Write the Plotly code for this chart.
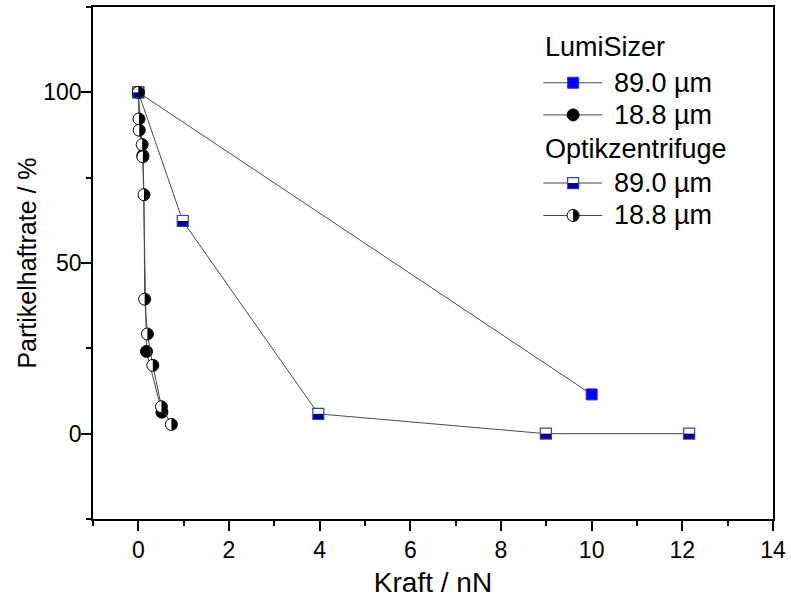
import plotly.graph_objects as go

# Kraft / nN  vs.  Partikelhaftrate / %
lumi_89_x = [0.0, 10.0]
lumi_89_y = [100.0, 11.5]

lumi_188_x = [0.0, 0.1, 0.18, 0.52]
lumi_188_y = [100.0, 81.5, 24.1, 6.3]

optik_89_x = [0.0, 0.98, 3.97, 8.99, 12.15]
optik_89_y = [100.0, 62.3, 5.8, 0.0, 0.0]

optik_188_x = [0.0, 0.015, 0.02, 0.085, 0.1, 0.125, 0.14, 0.2, 0.32, 0.51, 0.73]
optik_188_y = [100.0, 92.2, 88.9, 84.7, 81.1, 70.0, 39.4, 29.2, 20.0, 7.9, 2.7]

group_titles = ["LumiSizer", "Optikzentrifuge"]
series_labels = ["89.0 µm", "18.8 µm", "89.0 µm", "18.8 µm"]

x_ticks = [0, 2, 4, 6, 8, 10, 12, 14]
y_ticks = [0, 50, 100]

FONT = "Liberation Sans, Arial, sans-serif"
LINE = "#4a4a4a"
BLUE = "#0000ff"
BLUE_EDGE = "#2f2fe0"
NAVY = "#000099"
NAVY_EDGE = "#3a3ac8"

SQ = 11     # square marker size (px)
CIRC = 12   # circle marker size (px)


def half_circle_path(r):
    """Right half of a circle of radius r, in pixels around the anchor."""
    k = 0.5523 * r
    return (f"M0,{r} C{k:.3f},{r} {r},{k:.3f} {r},0 "
            f"C{r},{-k:.3f} {k:.3f},{-r} 0,{-r} Z")


def half_circle_shape(x, y, xref, yref):
    r = CIRC / 2 - 0.2
    return dict(type="path", xref=xref, yref=yref,
                xsizemode="pixel", ysizemode="pixel",
                xanchor=x, yanchor=y, path=half_circle_path(r),
                fillcolor="black", line=dict(width=0), layer="above")


def half_square_shape(x, y, xref, yref):
    h = SQ / 2 - 0.3
    return dict(type="rect", xref=xref, yref=yref,
                xsizemode="pixel", ysizemode="pixel",
                xanchor=x, yanchor=y, x0=-h, x1=h, y0=-h, y1=0,
                fillcolor=NAVY, line=dict(width=0), layer="above")


fig = go.Figure()

line_style = dict(color=LINE, width=1)

fig.add_trace(go.Scatter(
    x=lumi_89_x, y=lumi_89_y, mode="lines+markers", line=line_style,
    marker=dict(symbol="square", size=SQ, color=BLUE,
                line=dict(color=BLUE_EDGE, width=1)),
    name="LumiSizer 89.0 µm", showlegend=False))

fig.add_trace(go.Scatter(
    x=lumi_188_x, y=lumi_188_y, mode="lines+markers", line=line_style,
    marker=dict(symbol="circle", size=CIRC, color="black",
                line=dict(color="black", width=1)),
    name="LumiSizer 18.8 µm", showlegend=False))

fig.add_trace(go.Scatter(
    x=optik_89_x, y=optik_89_y, mode="lines+markers", line=line_style,
    marker=dict(symbol="square", size=SQ, color="white",
                line=dict(color=NAVY_EDGE, width=1.2)),
    name="Optikzentrifuge 89.0 µm", showlegend=False))

fig.add_trace(go.Scatter(
    x=optik_188_x, y=optik_188_y, mode="lines+markers", line=line_style,
    marker=dict(symbol="circle", size=CIRC, color="white",
                line=dict(color="black", width=1)),
    name="Optikzentrifuge 18.8 µm", showlegend=False))

shapes = []
shapes += [half_square_shape(x, y, "x", "y") for x, y in zip(optik_89_x, optik_89_y)]
shapes += [half_circle_shape(x, y, "x", "y") for x, y in zip(optik_188_x, optik_188_y)]

# ---- legend, drawn on an overlay axis spanning the plot area (0..1) ----
leg_line = [0.6623, 0.7489]
leg_mark = 0.7061
leg_text_x = 0.7635
leg_head_x = 0.6623
head_rows = [0.9212, 0.7228]
entry_rows = [0.8521, 0.7893, 0.6562, 0.5928]

entry_markers = [
    dict(symbol="square", size=SQ, color=BLUE, line=dict(color=BLUE_EDGE, width=1)),
    dict(symbol="circle", size=CIRC, color="black", line=dict(color="black", width=1)),
    dict(symbol="square", size=SQ, color="white", line=dict(color=NAVY_EDGE, width=1.2)),
    dict(symbol="circle", size=CIRC, color="white", line=dict(color="black", width=1)),
]

for row, mk in zip(entry_rows, entry_markers):
    fig.add_trace(go.Scatter(
        x=leg_line, y=[row, row], mode="lines", line=line_style,
        xaxis="x2", yaxis="y2", showlegend=False, hoverinfo="skip"))
    fig.add_trace(go.Scatter(
        x=[leg_mark], y=[row], mode="markers", marker=mk,
        xaxis="x2", yaxis="y2", showlegend=False, hoverinfo="skip"))

shapes.append(half_square_shape(leg_mark, entry_rows[2], "x2", "y2"))
shapes.append(half_circle_shape(leg_mark, entry_rows[3], "x2", "y2"))

annotations = []
for title, row in zip(group_titles, head_rows):
    annotations.append(dict(x=leg_head_x, y=row, xref="x2", yref="y2", text=title,
                            showarrow=False, xanchor="left", yanchor="middle",
                            font=dict(family=FONT, size=27, color="black")))
for label, row in zip(series_labels, entry_rows):
    annotations.append(dict(x=leg_text_x, y=row, xref="x2", yref="y2", text=label,
                            showarrow=False, xanchor="left", yanchor="middle",
                            font=dict(family=FONT, size=27, color="black")))

axis_common = dict(
    showline=True, linecolor="black", linewidth=1.5, mirror=True,
    ticks="outside", ticklen=10, tickwidth=1.5, tickcolor="black",
    showgrid=False, zeroline=False,
    tickfont=dict(family=FONT, size=23, color="black"),
)

fig.update_layout(
    width=791, height=599,
    margin=dict(l=93, r=13, t=5, b=80),
    paper_bgcolor="white", plot_bgcolor="white",
    font=dict(family=FONT, color="black"),
    xaxis=dict(
        range=[-1, 14], tickmode="array", tickvals=x_ticks,
        minor=dict(ticks="outside", ticklen=5, tickwidth=1.5, tickcolor="black", dtick=1, tick0=-1),
        title=dict(text="Kraft / nN", font=dict(family=FONT, size=28), standoff=10),
        **axis_common),
    yaxis=dict(
        range=[-25, 125], tickmode="array", tickvals=y_ticks,
        minor=dict(ticks="outside", ticklen=5, tickwidth=1.5, tickcolor="black", dtick=25, tick0=-25),
        ticklabelstandoff=-5,
        title=dict(text="Partikelhaftrate / %", font=dict(family=FONT, size=25), standoff=0),
        **axis_common),
    xaxis2=dict(overlaying="x", range=[0, 1], visible=False, fixedrange=True),
    yaxis2=dict(overlaying="y", range=[0, 1], visible=False, fixedrange=True),
    shapes=shapes,
    annotations=annotations,
    showlegend=False,
)

fig.write_html("out.html")
